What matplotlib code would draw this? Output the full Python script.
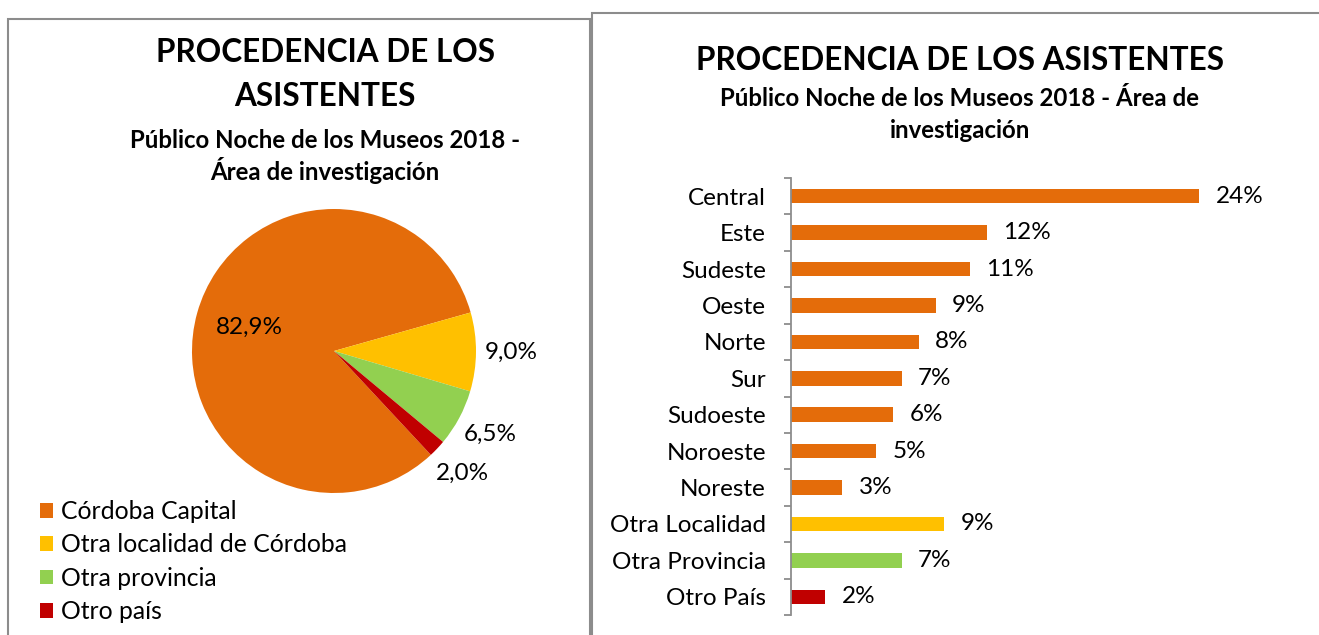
"""Procedencia de los asistentes: pie (left) + bar chart by zone (right)."""

import matplotlib

matplotlib.use("Agg")
import matplotlib.pyplot as plt  # noqa: E402
import numpy as np  # noqa: E402
from matplotlib.patches import Rectangle  # noqa: E402

plt.rcParams["font.family"] = ["Lato", "DejaVu Sans"]

# ── data ─────────────────────────────────────────────────────────────────────
PIE_LABELS = ["Córdoba Capital", "Otra localidad de Córdoba", "Otra provincia", "Otro país"]
PIE_VALUES = [82.9, 9.0, 6.5, 2.0]
PIE_TEXT = ["82,9%", "9,0%", "6,5%", "2,0%"]

ZONES = [
    "Central", "Este", "Sudeste", "Oeste", "Norte", "Sur", "Sudoeste",
    "Noroeste", "Noreste", "Otra Localidad", "Otra Provincia", "Otro País",
]
ZONE_VALUES = [24.0, 11.5, 10.5, 8.5, 7.5, 6.5, 6.0, 5.0, 3.0, 9.0, 6.5, 2.0]
ZONE_TEXT = ["24%", "12%", "11%", "9%", "8%", "7%", "6%", "5%", "3%", "9%", "7%", "2%"]

ORANGE, YELLOW, GREEN, RED = "#E46C0A", "#FFC000", "#92D050", "#C00000"
PIE_COLORS = [ORANGE, YELLOW, GREEN, RED]
ZONE_COLORS = [ORANGE] * 9 + [YELLOW, GREEN, RED]

TITLE = "PROCEDENCIA DE LOS ASISTENTES"

W, H = 1319, 635
TFS, SFS, LFS = 22.7, 17.3, 17.5  # title / subtitle / label font sizes
fig = plt.figure(figsize=(W / 100, H / 100), dpi=100)


def px(x0, y0, x1, y1):
    """pixel box (top-left origin) -> figure fraction rect"""
    return [x0 / W, 1 - y1 / H, (x1 - x0) / W, (y1 - y0) / H]


# panel borders
for x0, y0, x1 in [(8, 19, 590), (592, 13, 1330)]:
    fig.patches.append(
        Rectangle((x0 / W, -0.05), (x1 - x0) / W, 1.05 - y0 / H, transform=fig.transFigure,
                  fill=False, edgecolor="#8c8c8c", lw=1.5)
    )

# ── left: pie ────────────────────────────────────────────────────────────────
fig.text(325 / W, 1 - 53 / H, "PROCEDENCIA DE LOS", ha="center", va="center",
         fontsize=TFS, fontweight="bold")
fig.text(325 / W, 1 - 97 / H, "ASISTENTES", ha="center", va="center",
         fontsize=TFS, fontweight="bold")
fig.text(325 / W, 1 - 140 / H, "Público Noche de los Museos 2018 -", ha="center",
         va="center", fontsize=SFS, fontweight="bold")
fig.text(325 / W, 1 - 170 / H, "Área de investigación", ha="center", va="center",
         fontsize=SFS, fontweight="bold")

axp = fig.add_axes(px(192, 209, 476, 493))
wedges, _ = axp.pie(PIE_VALUES, colors=PIE_COLORS, startangle=-47, counterclock=False,
                    radius=1, wedgeprops=dict(linewidth=0))
axp.set_xlim(-1, 1)
axp.set_ylim(-1, 1)
axp.set_aspect("auto")

for k, (w, t) in enumerate(zip(wedges, PIE_TEXT)):
    ang = np.deg2rad((w.theta1 + w.theta2) / 2)
    r = 0.62 if k == 0 else 1.25
    axp.text(r * np.cos(ang), r * np.sin(ang), t, ha="center", va="center", fontsize=LFS)

fig.legend(
    wedges, PIE_LABELS, loc="upper left", bbox_to_anchor=(40 / W, 1 - 500 / H),
    frameon=False, fontsize=17.8, handlelength=0.53, handleheight=0.53, handletextpad=0.3,
    labelspacing=0.42, borderpad=0, borderaxespad=0,
)

# ── right: bars ──────────────────────────────────────────────────────────────
fig.text(960 / W, 1 - 60 / H, TITLE, ha="center", va="center", fontsize=TFS,
         fontweight="bold")
fig.text(960 / W, 1 - 98 / H, "Público Noche de los Museos 2018 - Área de", ha="center",
         va="center", fontsize=SFS, fontweight="bold")
fig.text(960 / W, 1 - 130 / H, "investigación", ha="center", va="center", fontsize=SFS,
         fontweight="bold")

axb = fig.add_axes(px(791, 178, 1267, 615))
y = np.arange(len(ZONES))
axb.barh(y, ZONE_VALUES, height=0.4, color=ZONE_COLORS)
for yi, v, t in zip(y, ZONE_VALUES, ZONE_TEXT):
    axb.annotate(t, (v, yi), xytext=(12, 0), textcoords="offset points", ha="left",
                 va="center", fontsize=LFS)
axb.set_xlim(0, 28)
axb.set_ylim(len(ZONES) - 0.5, -0.5)
for s in ["top", "right", "bottom"]:
    axb.spines[s].set_visible(False)
axb.spines["left"].set_color("#8c8c8c")
axb.spines["left"].set_linewidth(1.3)
axb.set_xticks([])
axb.set_yticks(y)
axb.set_yticklabels(ZONES, fontsize=LFS)
axb.tick_params(axis="y", which="major", length=0, pad=18)
axb.set_yticks(np.arange(-0.5, len(ZONES)), minor=True)
axb.tick_params(axis="y", which="minor", length=5, color="#8c8c8c", width=1.3)

fig.savefig("out.png", dpi=100)
